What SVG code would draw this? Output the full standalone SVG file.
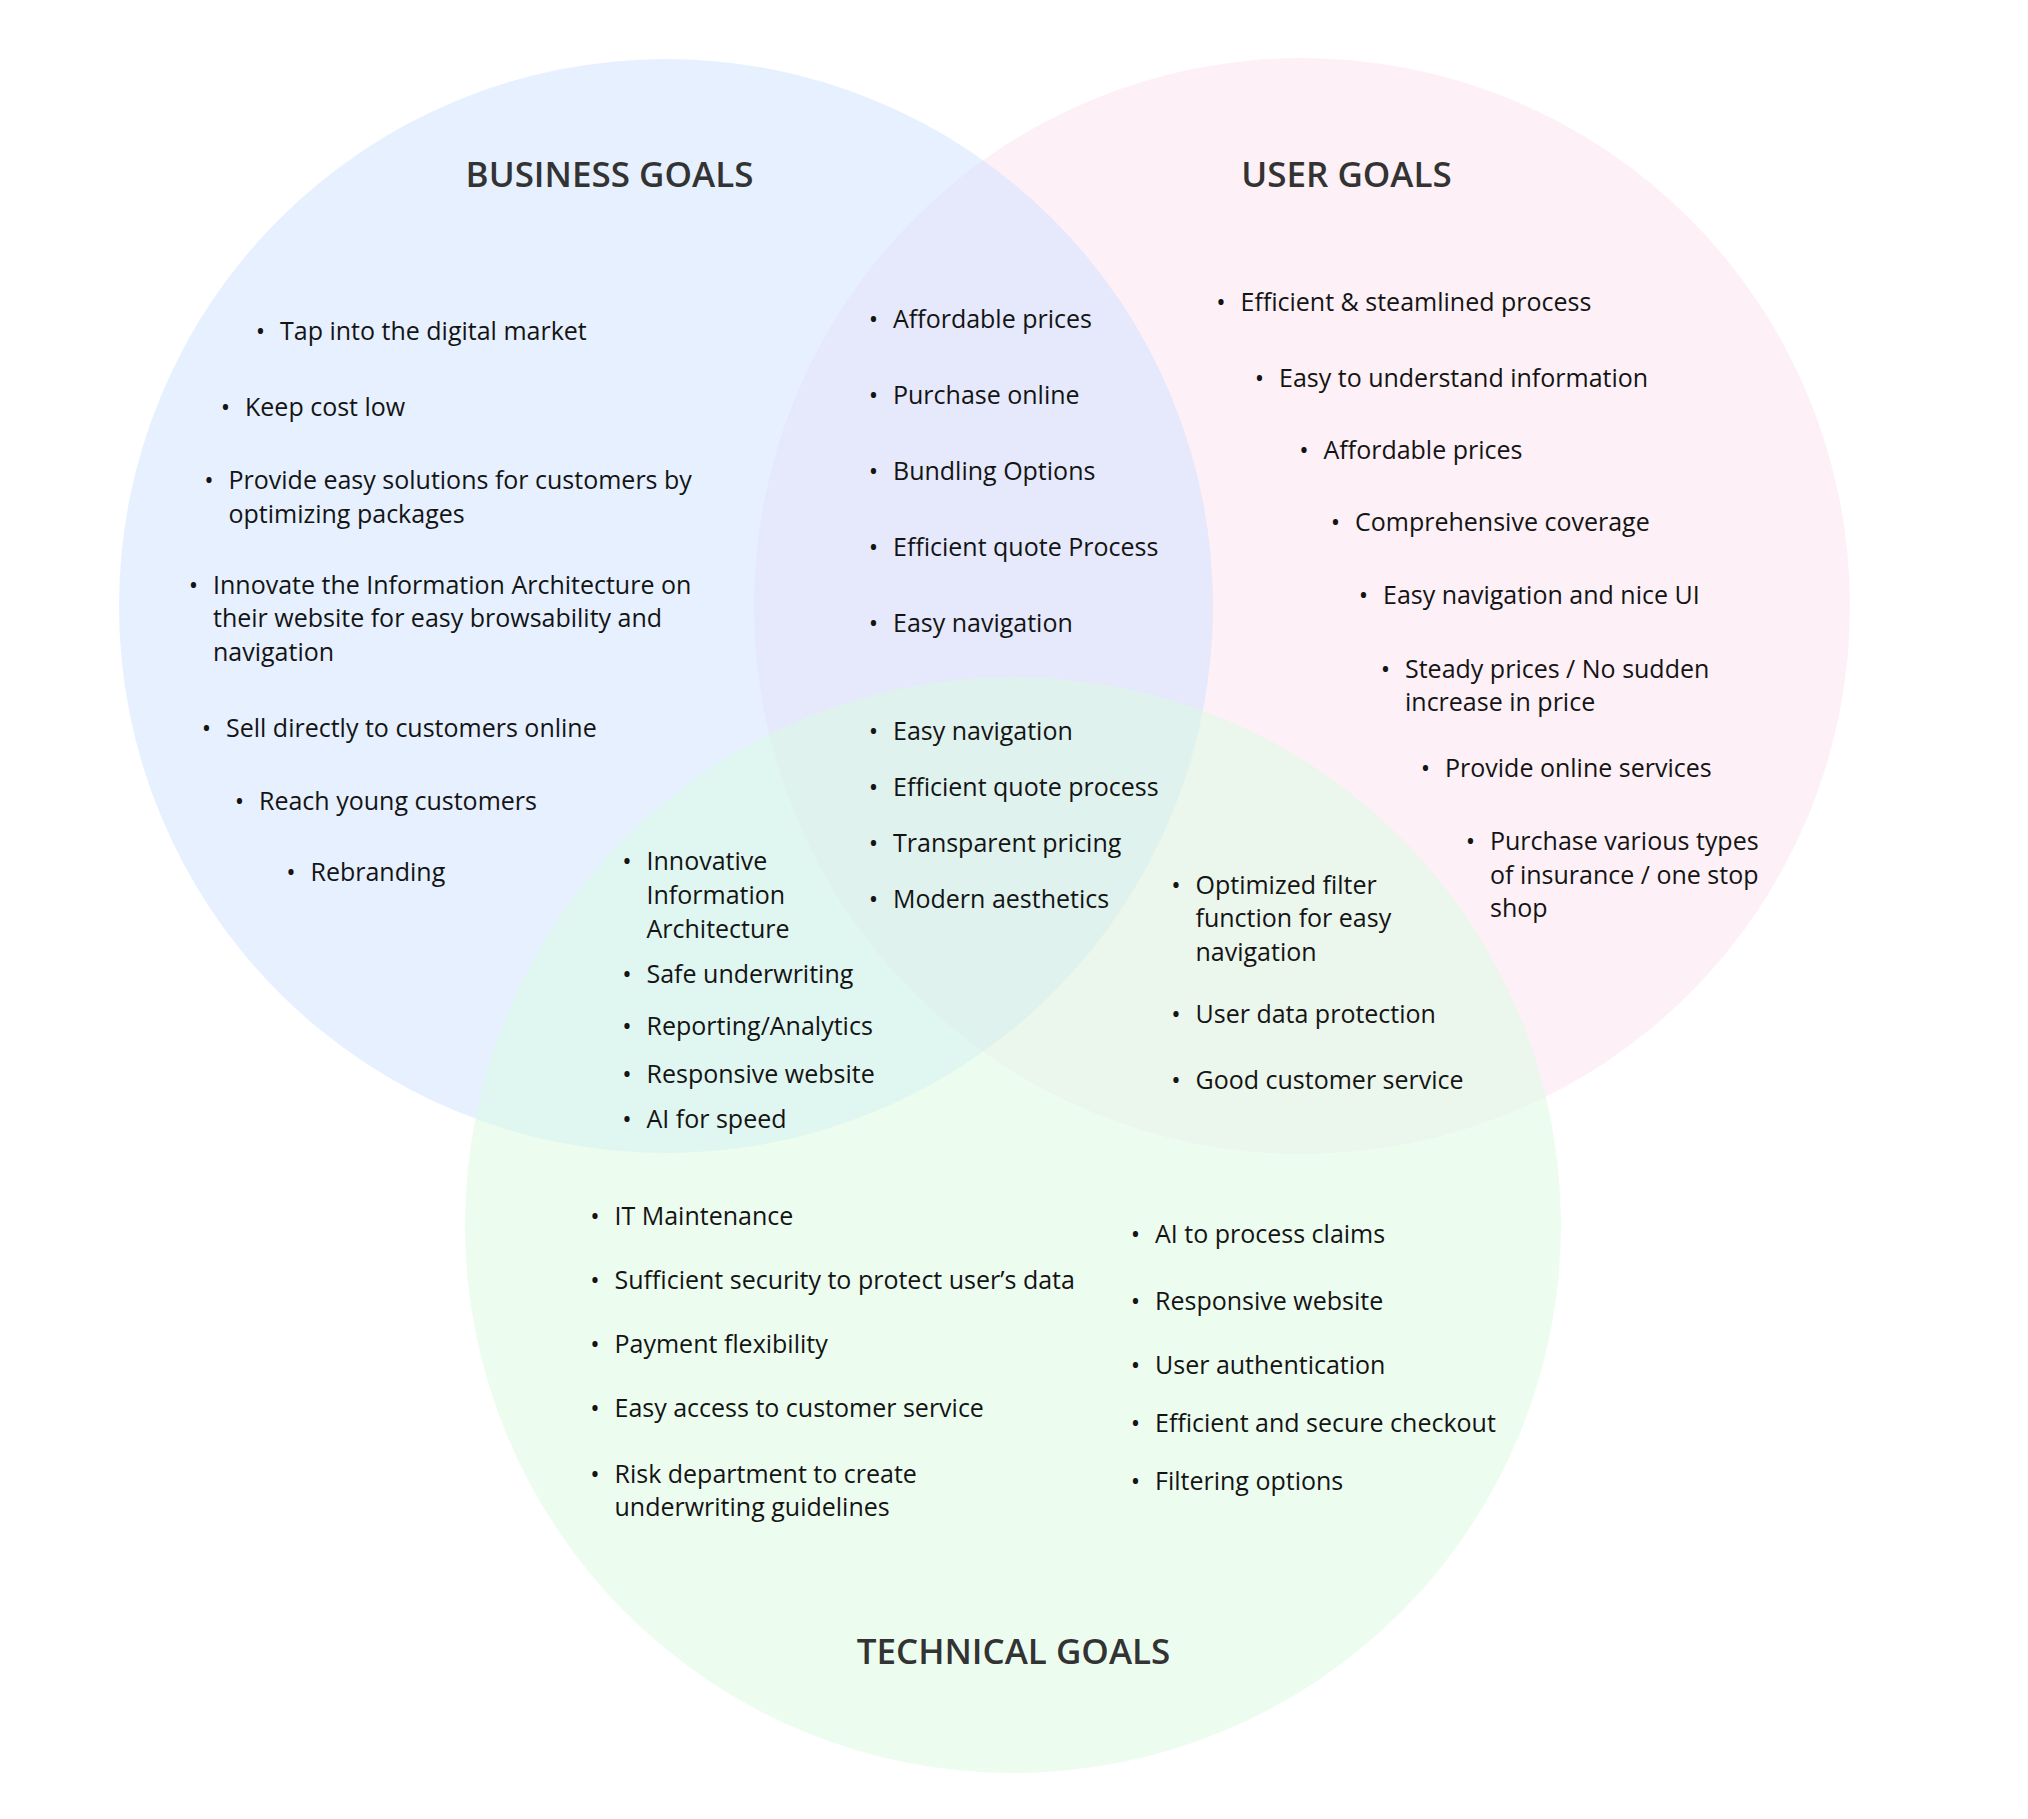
<svg xmlns="http://www.w3.org/2000/svg" width="2028" height="1819" viewBox="0 0 2028 1819">
<style>
.c{opacity:0.5}
.h{font-family:"Open Sans","Noto Sans",sans-serif;font-weight:600;font-size:35px;fill:#333333;text-anchor:middle}
.t{font-family:"Open Sans","Noto Sans",sans-serif;font-size:25px;fill:#141414}
.b{font-family:"Open Sans","Noto Sans",sans-serif;font-size:25px;fill:#141414;text-anchor:middle}
</style>
<rect width="2028" height="1819" fill="#ffffff"/>
<g id="circles">
<circle id="circle-user" class="c" cx="1302" cy="606" r="548" fill="#FBE1EF"/>
<circle id="circle-business" class="c" cx="666" cy="606" r="547" fill="#CDE1FF"/>
<circle id="circle-technical" class="c" cx="1013" cy="1225" r="548" fill="#D9FBE1"/>
</g>
<g id="connectors"></g>
<g id="business-goals">
<text class="h" x="609.5" y="187">BUSINESS GOALS</text>
<text class="b" x="260.5" y="339.5">•</text><text class="t" x="280" y="339.5">Tap into the digital market</text>
<text class="b" x="225.5" y="416">•</text><text class="t" x="245" y="416">Keep cost low</text>
<text class="b" x="209" y="489">•</text><text class="t" x="228.5" y="489">Provide easy solutions for customers by<tspan x="228.5" dy="33.6">optimizing packages</tspan></text>
<text class="b" x="193.5" y="593.5">•</text><text class="t" x="213" y="593.5">Innovate the Information Architecture on<tspan x="213" dy="33.6">their website for easy browsability and</tspan><tspan x="213" dy="33.6">navigation</tspan></text>
<text class="b" x="206.5" y="736.5">•</text><text class="t" x="226" y="736.5">Sell directly to customers online</text>
<text class="b" x="239.5" y="809.5">•</text><text class="t" x="259" y="809.5">Reach young customers</text>
<text class="b" x="291" y="880.5">•</text><text class="t" x="310.5" y="880.5">Rebranding</text>
</g>
<g id="user-goals">
<text class="h" x="1346.5" y="187">USER GOALS</text>
<text class="b" x="1221" y="310.5">•</text><text class="t" x="1240.5" y="310.5">Efficient &amp; steamlined process</text>
<text class="b" x="1259.5" y="386.5">•</text><text class="t" x="1279" y="386.5">Easy to understand information</text>
<text class="b" x="1304" y="458.5">•</text><text class="t" x="1323.5" y="458.5">Affordable prices</text>
<text class="b" x="1335.5" y="530.5">•</text><text class="t" x="1355" y="530.5">Comprehensive coverage</text>
<text class="b" x="1363.5" y="603.5">•</text><text class="t" x="1383" y="603.5">Easy navigation and nice UI</text>
<text class="b" x="1385.5" y="677.5">•</text><text class="t" x="1405" y="677.5">Steady prices / No sudden<tspan x="1405" dy="33.6">increase in price</tspan></text>
<text class="b" x="1425.5" y="776.5">•</text><text class="t" x="1445" y="776.5">Provide online services</text>
<text class="b" x="1470.5" y="850">•</text><text class="t" x="1490" y="850">Purchase various types<tspan x="1490" dy="33.6">of insurance / one stop</tspan><tspan x="1490" dy="33.6">shop</tspan></text>
</g>
<g id="business-user-overlap">
<text class="b" x="873.5" y="327.5">•</text><text class="t" x="893" y="327.5">Affordable prices</text>
<text class="b" x="873.5" y="403.5">•</text><text class="t" x="893" y="403.5">Purchase online</text>
<text class="b" x="873.5" y="479.5">•</text><text class="t" x="893" y="479.5">Bundling Options</text>
<text class="b" x="873.5" y="555.5">•</text><text class="t" x="893" y="555.5">Efficient quote Process</text>
<text class="b" x="873.5" y="631.5">•</text><text class="t" x="893" y="631.5">Easy navigation</text>
</g>
<g id="all-goals-overlap">
<text class="b" x="873.5" y="740">•</text><text class="t" x="893" y="740">Easy navigation</text>
<text class="b" x="873.5" y="795.5">•</text><text class="t" x="893" y="795.5">Efficient quote process</text>
<text class="b" x="873.5" y="851.5">•</text><text class="t" x="893" y="851.5">Transparent pricing</text>
<text class="b" x="873.5" y="907.5">•</text><text class="t" x="893" y="907.5">Modern aesthetics</text>
</g>
<g id="business-technical-overlap">
<text class="b" x="627" y="869.5">•</text><text class="t" x="646.5" y="869.5">Innovative<tspan x="646.5" dy="34">Information</tspan><tspan x="646.5" dy="34">Architecture</tspan></text>
<text class="b" x="627" y="982.5">•</text><text class="t" x="646.5" y="982.5">Safe underwriting</text>
<text class="b" x="627" y="1034.5">•</text><text class="t" x="646.5" y="1034.5">Reporting/Analytics</text>
<text class="b" x="627" y="1082.5">•</text><text class="t" x="646.5" y="1082.5">Responsive website</text>
<text class="b" x="627" y="1127.5">•</text><text class="t" x="646.5" y="1127.5">AI for speed</text>
</g>
<g id="user-technical-overlap">
<text class="b" x="1176" y="893.5">•</text><text class="t" x="1195.5" y="893.5">Optimized filter<tspan x="1195.5" dy="33.6">function for easy</tspan><tspan x="1195.5" dy="33.6">navigation</tspan></text>
<text class="b" x="1176" y="1022.5">•</text><text class="t" x="1195.5" y="1022.5">User data protection</text>
<text class="b" x="1176" y="1088.5">•</text><text class="t" x="1195.5" y="1088.5">Good customer service</text>
</g>
<g id="technical-goals">
<text class="b" x="595" y="1224.5">•</text><text class="t" x="614.5" y="1224.5">IT Maintenance</text>
<text class="b" x="595" y="1288.5">•</text><text class="t" x="614.5" y="1288.5">Sufficient security to protect user’s data</text>
<text class="b" x="595" y="1352.5">•</text><text class="t" x="614.5" y="1352.5">Payment flexibility</text>
<text class="b" x="595" y="1416.5">•</text><text class="t" x="614.5" y="1416.5">Easy access to customer service</text>
<text class="b" x="595" y="1482.5">•</text><text class="t" x="614.5" y="1482.5">Risk department to create<tspan x="614.5" dy="33.6">underwriting guidelines</tspan></text>
<text class="b" x="1135.5" y="1243">•</text><text class="t" x="1155" y="1243">AI to process claims</text>
<text class="b" x="1135.5" y="1309.5">•</text><text class="t" x="1155" y="1309.5">Responsive website</text>
<text class="b" x="1135.5" y="1373.5">•</text><text class="t" x="1155" y="1373.5">User authentication</text>
<text class="b" x="1135.5" y="1431.5">•</text><text class="t" x="1155" y="1431.5">Efficient and secure checkout</text>
<text class="b" x="1135.5" y="1489.5">•</text><text class="t" x="1155" y="1489.5">Filtering options</text>
<text class="h" x="1013.5" y="1664">TECHNICAL GOALS</text>
</g>
</svg>
